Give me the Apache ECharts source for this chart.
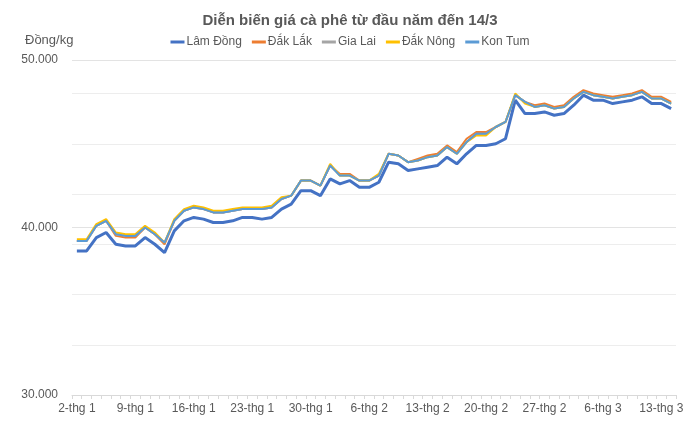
<!DOCTYPE html>
<html>
<head>
<meta charset="utf-8">
<script src="https://cdn.jsdelivr.net/npm/echarts@6/dist/echarts.min.js"></script>
<style>
  html, body { margin: 0; padding: 0; background: #fff; }
  #chart { width: 700px; height: 426px; }
</style>
</head>
<body>
<div id="chart"></div>
<script>
// Mon-Sat trading days, 2/1 to 14/3
const days = [
  '2-thg 1','3-thg 1','4-thg 1','5-thg 1','6-thg 1','7-thg 1',
  '9-thg 1','10-thg 1','11-thg 1','12-thg 1','13-thg 1','14-thg 1',
  '16-thg 1','17-thg 1','18-thg 1','19-thg 1','20-thg 1','21-thg 1',
  '23-thg 1','24-thg 1','25-thg 1','26-thg 1','27-thg 1','28-thg 1',
  '30-thg 1','31-thg 1','1-thg 2','2-thg 2','3-thg 2','4-thg 2',
  '6-thg 2','7-thg 2','8-thg 2','9-thg 2','10-thg 2','11-thg 2',
  '13-thg 2','14-thg 2','15-thg 2','16-thg 2','17-thg 2','18-thg 2',
  '20-thg 2','21-thg 2','22-thg 2','23-thg 2','24-thg 2','25-thg 2',
  '27-thg 2','28-thg 2','1-thg 3','2-thg 3','3-thg 3','4-thg 3',
  '6-thg 3','7-thg 3','8-thg 3','9-thg 3','10-thg 3','11-thg 3',
  '13-thg 3','14-thg 3'
];

const lamDong = [
  38600, 38600, 39400, 39700, 39000, 38900, 38900, 39400, 39000, 38500,
  39800, 40400, 40600, 40500, 40300, 40300, 40400, 40600, 40600, 40500,
  40600, 41100, 41400, 42200, 42200, 41900, 42900, 42600, 42800, 42400,
  42400, 42700, 43900, 43800, 43400, 43500, 43600, 43700, 44200, 43800,
  44400, 44900, 44900, 45000, 45300, 47600, 46800, 46800, 46900, 46700,
  46800, 47300, 47900, 47600, 47600, 47400, 47500, 47600, 47800, 47400,
  47400, 47100
];
const dakLak = [
  39200, 39200, 40100, 40400, 39500, 39400, 39400, 40000, 39600, 39000,
  40400, 41000, 41200, 41100, 40900, 40900, 41000, 41100, 41100, 41100,
  41200, 41700, 41900, 42800, 42800, 42500, 43700, 43200, 43200, 42800,
  42800, 43100, 44400, 44300, 43900, 44100, 44300, 44400, 44900, 44500,
  45300, 45700, 45700, 46000, 46300, 47900, 47500, 47300, 47400, 47200,
  47300, 47800, 48200, 48000, 47900, 47800, 47900, 48000, 48200, 47800,
  47800, 47500
];
const giaLai = [
  39200, 39200, 40100, 40400, 39600, 39500, 39500, 40000, 39600, 39100,
  40400, 41000, 41200, 41100, 40900, 40900, 41000, 41100, 41100, 41100,
  41200, 41700, 41900, 42800, 42800, 42500, 43700, 43100, 43100, 42800,
  42800, 43100, 44400, 44300, 43900, 44000, 44200, 44300, 44800, 44400,
  45100, 45600, 45600, 46000, 46300, 47900, 47500, 47200, 47300, 47100,
  47200, 47700, 48100, 47900, 47800, 47700, 47800, 47900, 48100, 47700,
  47700, 47400
];
const dakNong = [
  39300, 39300, 40200, 40500, 39700, 39600, 39600, 40100, 39700, 39100,
  40500, 41100, 41300, 41200, 41000, 41000, 41100, 41200, 41200, 41200,
  41300, 41800, 41900, 42800, 42800, 42500, 43800, 43100, 43100, 42800,
  42800, 43200, 44400, 44300, 43900, 44000, 44200, 44300, 44800, 44400,
  45100, 45500, 45500, 46000, 46300, 48000, 47400, 47200, 47300, 47100,
  47200, 47700, 48100, 47900, 47800, 47700, 47800, 47900, 48100, 47700,
  47700, 47400
];
const konTum = [
  39200, 39200, 40100, 40400, 39600, 39500, 39500, 40000, 39600, 39100,
  40400, 41000, 41200, 41100, 40900, 40900, 41000, 41100, 41100, 41100,
  41200, 41700, 41900, 42800, 42800, 42500, 43700, 43100, 43100, 42800,
  42800, 43100, 44400, 44300, 43900, 44000, 44200, 44300, 44800, 44400,
  45100, 45600, 45600, 46000, 46300, 47900, 47500, 47200, 47300, 47100,
  47200, 47700, 48100, 47900, 47800, 47700, 47800, 47900, 48100, 47700,
  47700, 47400
];

const names = ['Lâm Đồng', 'Đắk Lắk', 'Gia Lai', 'Đắk Nông', 'Kon Tum'];
const colors = ['#4472C4', '#ED7D31', '#A5A5A5', '#FFC000', '#5B9BD5'];
const values = [lamDong, dakLak, giaLai, dakNong, konTum];

const font = 'Liberation Sans';
const textColor = '#595959';

var myChart = echarts.init(document.getElementById('chart'));
var option = {
  animation: false,
  backgroundColor: '#fff',
  title: {
    text: 'Diễn biến giá cà phê từ đầu năm đến 14/3',
    left: 'center',
    top: 8,
    textStyle: { fontFamily: font, fontSize: 15, fontWeight: 'bold', color: textColor }
  },
  legend: {
    data: names,
    top: 31,
    left: 'center',
    icon: 'rect',
    itemWidth: 14,
    itemHeight: 3,
    itemGap: 10,
    textStyle: { fontFamily: font, fontSize: 12, color: textColor, padding: [0, 0, 0, -3] }
  },
  graphic: [{
    type: 'text',
    left: 25,
    top: 34,
    style: { text: 'Đồng/kg', font: '13px ' + font, fill: textColor }
  }],
  grid: { left: 72, right: 24, top: 60, bottom: 31 },
  xAxis: {
    type: 'category',
    data: days,
    boundaryGap: true,
    axisLine: { lineStyle: { color: '#D9D9D9' } },
    axisTick: { show: true, interval: 0, length: 4, lineStyle: { color: '#D9D9D9' } },
    axisLabel: { interval: 5, color: textColor, fontFamily: font, fontSize: 12, margin: 8 }
  },
  yAxis: [
    {
      type: 'value',
      min: 30000,
      max: 50000,
      interval: 3000,
      axisLine: { show: false },
      axisTick: { show: false },
      axisLabel: { show: false },
      splitLine: { lineStyle: { color: '#EDEDED' } }
    },
    {
      type: 'value',
      position: 'left',
      min: 30000,
      max: 50000,
      interval: 10000,
      axisLine: { show: false },
      axisTick: { show: false },
      splitLine: { lineStyle: { color: '#E3E3E3' } },
      axisLabel: {
        color: textColor, fontFamily: font, fontSize: 12, margin: 14,
        formatter: v => v.toLocaleString('de-DE')
      }
    }
  ],
  series: names.map((n, k) => ({
    name: n,
    type: 'line',
    yAxisIndex: 0,
    data: values[k],
    showSymbol: false,
    color: colors[k],
    lineStyle: { width: k === 0 ? 3 : 2 },
    z: 2 + k
  }))
};
option && myChart.setOption(option);
</script>
</body>
</html>
